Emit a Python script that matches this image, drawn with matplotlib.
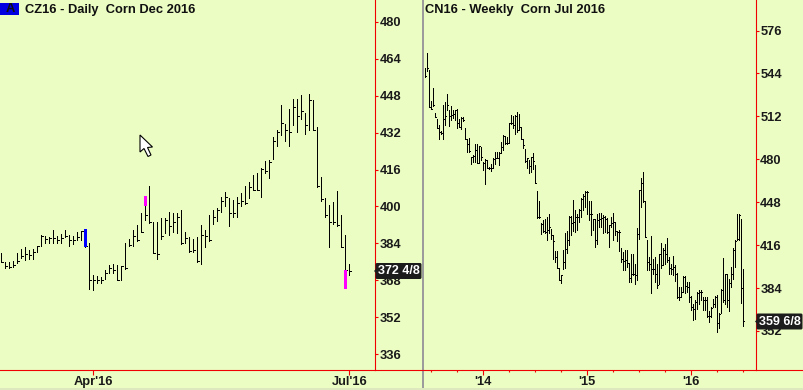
# corn futures bars, daily and weekly panels
import numpy as np
import matplotlib
matplotlib.use("Agg")
import matplotlib.pyplot as plt
from matplotlib.patches import Polygon, FancyBboxPatch, Rectangle

BG = '#EBFDC3'
RED = '#F00000'

# daily CZ16
d_high = [380.4,376.8,376.8,377.1,380.7,382.3,383,381.9,382.3,383.7,388.3,387.9,387.6,390.5,388,388.8,390.5,388.3,388,389.5,390.1,390.9,
          384.7,370.8,370.6,370,373.2,375.4,375.7,375.4,375,384.7,386.5,390.5,392.7,397.7,400.9,409.5,394.1,394.1,395.5,395.5,398.1,397.7,397.7,399.1,389.8,387.6,386.5,387.6,
          392.7,390.5,397,399.2,399.9,404.9,407.1,404.2,403.5,404.6,406.4,409.5,411.4,414.3,415.4,417.2,420.3,420.8,430.6,434,444.5,436.6,443.1,447.1,447.4,448.9,441.4,449.6,447,
          435.2,413.3,404.2,401.3,402.5,407.4,397,388.3,375.8]
d_low = [376.8,374.2,373.8,374.4,376.1,378.3,377.3,377.8,378.1,380.9,383.6,385,385,385,385,384.7,387.3,383.7,384.5,386.2,386.2,383.2,
         365,364.3,367.5,367.5,369.3,371.8,372,368.6,368.6,373.5,383.6,383.7,385.5,389.5,394.8,393.4,380.4,378,386.5,389,388.3,389.8,389,384.5,384.7,380.9,381.1,376.5,
         375.7,382.9,385.9,393,394.5,398.1,400.9,392,396.3,396.3,400.9,401.6,404.2,407.8,407.8,404.9,415.4,413.1,421.3,427,431.6,429.1,427,435.9,433,438.8,431.9,433.7,433.7,
         409.2,403.2,396.3,382.9,393,392,382.9,373.2,370.8]
d_close = [376.8,375,374.5,375.5,377,379,380,379.5,381,383.5,388,386.5,387,387,386,387,388,386,386,387.5,390,383.5,
           369,369,369,369,372,374,373,369,375,374,384,388,386,389.5,397,394,380.5,380,388,395,392,394,396,385,387,381.5,382,377,
           388.3,388,386,396,399,403,405,398,398,402,403,402,409,408,408,417,416,420,429,433,437,434,433,444,440,442,436,447,434,
           409.5,404,397,394,394,392.5,383,373,372.5]
# coloured days: bar index, top, bottom, colour
d_mark_idx = [21, 36, 86]
d_mark_top = [390.9, 405.2, 373.2]
d_mark_bot = [383.2, 400.9, 365]
d_mark_col = ['#0000FF', '#FF00FF', '#FF00FF']

# weekly CN16
w_high = [548.75,560,546.75,524.25,533.75,515,510.75,506.25,501.25,521.25,523.25,529.25,517.5,520.5,517,517.5,518,510.75,511.75,511.75,503.75,495.5,496.25,482.5,483.75,492,492,490.75,489.5,478.25,480.5,480,475,476.75,481.25,486.25,486.25,486.25,493.75,498.75,498.25,497.5,507.5,513.75,513,513.75,515.75,514.5,504.5,495.75,488.25,481.25,480,482.5,485,476.25,456.75,449.25,433,435,436.25,437.5,440,428.25,424.25,412.5,412.5,399.25,394.5,413,425.5,427,438,438,450,442.5,440,443.25,451.75,454.5,456.75,456.75,449.5,449.5,436.25,436.25,440,440.5,440.5,438.75,438,437,431.25,437.5,440.5,433.75,427,427.5,
          414,411.5,412.75,412.75,403.25,410.25,409.75,402.75,429,457.75,466.5,471,449.75,420.25,407.75,423.25,406.5,407.75,402.75,410.25,417.75,414,417.25,421.5,407.75,402.75,408.25,401.5,395.75,385.25,385.25,393.25,393.25,389,389,378.25,372.75,375.25,381.5,382.75,383.25,377.75,377.75,377.75,367.75,370.25,376.5,378.25,379,365.75,384,407.25,395.25,395.25,391.5,400.25,414,420.25,439.75,439.5,436,398.5]
w_low = [541.75,546.25,519.25,518,520,511.75,503.5,496,499.25,496,506.25,517.5,505.5,509.5,511.25,510,503.5,504.25,503,508.75,495.5,486.25,486.25,477,478.75,478.75,477.5,477.5,480,472.5,462,473.75,473,472,473.75,477,481.25,476.25,485,487.5,492,492,492.5,507,503.75,499.5,500.5,502,495.5,489.25,478.75,473.75,470.5,471.25,473,462.5,437,437,425,426.25,425.5,420.5,425.5,420.75,406.25,403.75,399.25,390.5,388,398.75,399.5,410.5,416.25,423.75,427,426.25,427.5,433.75,437.5,442.5,445,440,435,424.25,427.5,415,417,430,430,425.5,426.25,425.5,415,430,420.5,423.75,419.5,412,
         404,397.75,398.25,400.25,389,389,394,387.25,390.25,421,445.25,449,422.25,397.75,398.25,380.75,395.25,389,384.75,387.25,399.75,401.5,402.75,404,395.25,394.75,394,389.75,377.25,375.75,377.75,381.5,380.75,381.5,374,368.25,360.75,361.5,369,372.75,375.75,368.25,368.25,362.75,359,362.75,370.25,370.25,351.5,354.75,365.75,374,372.25,370.25,367.75,385.25,391.5,400.25,420.25,420.25,373.25,356]
w_close = [543,548.75,519.25,518.25,520.75,511.75,503.75,500.5,500,510.5,512.5,521.25,513,513.75,514.5,517,507.5,504.5,511.25,510,495.5,492,486.5,482.5,483,487.5,478,490.5,482,477.5,480,473.75,474.25,473.75,480.75,481.25,481.75,485.5,490,498.25,492.5,492.5,507.5,507.5,506.25,513,502.5,504.5,495.75,491.5,479.25,481.25,475.5,482,479.5,463,437.5,437.5,432.5,427,426.25,427.5,430,423.75,419.25,407.5,399.25,390.5,394,403.75,413.75,420,437.5,433,433.75,437.5,437.5,443,451.25,453,456.25,456.25,440,440,435.75,420,435.5,436.25,437,437.5,436.25,426.25,431.25,433,433.75,427,426.25,426.25,
           406,404.75,405.25,403.25,392.25,395.25,394.75,394,424.75,457.25,462.75,449.75,422.75,404,402.75,399,399,395.25,386.5,409.75,401.5,412.75,409.75,405.25,399.75,399,400.25,395.25,377.75,377.75,381.5,392.75,385.75,385.25,377.75,370.25,369,374,380.75,381.5,381.5,375.25,375.75,364,364,369.75,372.75,377.75,358.25,365.25,383.25,375.25,394.75,375.25,388.25,394.75,413.25,419.5,420.75,439,384.75,360.25]

d_yticks = [336,352,368,384,400,416,432,448,464,480]
w_yticks = [352,384,416,448,480,512,544,576]
d_xticks = [23, 87]
d_xlabels = ["Apr'16", "Jul'16"]
w_xticks = [29, 81, 133]
w_xlabels = ["'14", "'15", "'16"]

# the prices above were read a little high against the axis ticks
D_FIX = 0.7
W_FIX = 0.5

W, H = 804, 390
plt.rcParams['font.family'] = ['Liberation Sans', 'DejaVu Sans']
plt.rcParams['font.weight'] = 'bold'
fig = plt.figure(figsize=(W/100, H/100), dpi=100, facecolor=BG)

def make_axes(x0, x1, ybot):
    ax = fig.add_axes([x0/W, (H-ybot)/H, (x1-x0)/W, ybot/H], facecolor='none')
    for s in ['top', 'left']:
        ax.spines[s].set_visible(False)
    for s in ['right', 'bottom']:
        ax.spines[s].set_color(RED)
        ax.spines[s].set_linewidth(0.8)
    ax.yaxis.tick_right()
    return ax

def draw_bars(ax, high, low, close, tick, fix):
    x = np.arange(len(high))
    ax.vlines(x, np.array(low)-fix, np.array(high)-fix, color='black', lw=0.72, antialiased=False)
    ax.hlines(np.array(close)-fix, x, x + tick, color='black', lw=0.72, antialiased=False)

def style_ticks(ax):
    ax.tick_params(axis='y', colors=RED, length=2, width=0.8, pad=1, labelcolor='#1a1a1a', labelsize=9.3)
    ax.tick_params(axis='x', colors=RED, length=3.5, width=0.8, pad=1, labelcolor='#1a1a1a', labelsize=9.3)

# daily panel
ax1 = make_axes(0, 375.5, 369.5)
draw_bars(ax1, d_high, d_low, d_close, 0.4, D_FIX)
ax1.set_xlim(-0.325, 93.55)
ax1.set_ylim(329.3, 489.5)
ax1.set_yticks(d_yticks)
ax1.set_xticks(d_xticks)
ax1.set_xticklabels(d_xlabels)
style_ticks(ax1)
for i, top, bot, col in zip(d_mark_idx, d_mark_top, d_mark_bot, d_mark_col):
    ax1.bar(i, top-bot, bottom=bot-D_FIX, width=0.75, color=col, zorder=4)

# weekly panel
ax2 = make_axes(424, 756, 370)
draw_bars(ax2, w_high, w_low, w_close, 0.5, W_FIX)
ax2.set_xlim(-0.65, 165.35)
ax2.set_ylim(322.9, 598.8)
ax2.set_yticks(w_yticks)
ax2.set_xticks(w_xticks)
ax2.set_xticklabels(w_xlabels)
ax2.set_xticks(np.arange(3, 160, 13), minor=True)
style_ticks(ax2)
ax2.tick_params(axis='x', which='minor', colors=RED, length=1.5, width=0.8)

# overlay in pixel coordinates: divider, titles, price tags, cursor
ov = fig.add_axes([0, 0, 1, 1], facecolor='none')
ov.set_xlim(0, W)
ov.set_ylim(H, 0)
ov.axis('off')
ov.plot([375.5, 423], [369.5, 369.5], color=RED, lw=0.8)
ov.plot([756, 804], [370, 370], color=RED, lw=0.8)
ov.add_patch(Rectangle((422, 0), 2.5, H, color='#9C9C9C', lw=0))
ov.add_patch(Rectangle((0, 388), W, 2, color='#DDE8BE', lw=0))

ov.add_patch(Rectangle((0, 3), 19, 12, color='#0000E0', lw=0))
ov.text(10, 9.5, 'A', color='#101010', fontsize=9.3, ha='center', va='center')
ov.text(25, 9.5, 'CZ16 - Daily  Corn Dec 2016', color='#101010', fontsize=9.3, va='center')
ov.text(425, 9.5, 'CN16 - Weekly  Corn Jul 2016', color='#101010', fontsize=9.3, va='center')

def price_tag(x, y, label):
    ov.add_patch(FancyBboxPatch((x+3, y-6.5), 43, 13, boxstyle='round,pad=1.5', color='#1c1c1c', lw=0))
    ov.add_patch(Polygon([(x, y), (x+4, y-4), (x+4, y+4)], color='#1c1c1c', lw=0))
    ov.text(x+25, y+0.3, label, color='white', fontsize=9, ha='center', va='center')

price_tag(374, 271, '372 4/8')
price_tag(755, 321.5, '359 6/8')

cursor = [(140, 135), (140, 152), (144, 148.5), (148, 156.5), (151, 155), (147.5, 147.5), (152.5, 147)]
ov.add_patch(Polygon(cursor, closed=True, facecolor='white', edgecolor='black', lw=0.8))

fig.savefig('out.png', dpi=100, facecolor=BG)
